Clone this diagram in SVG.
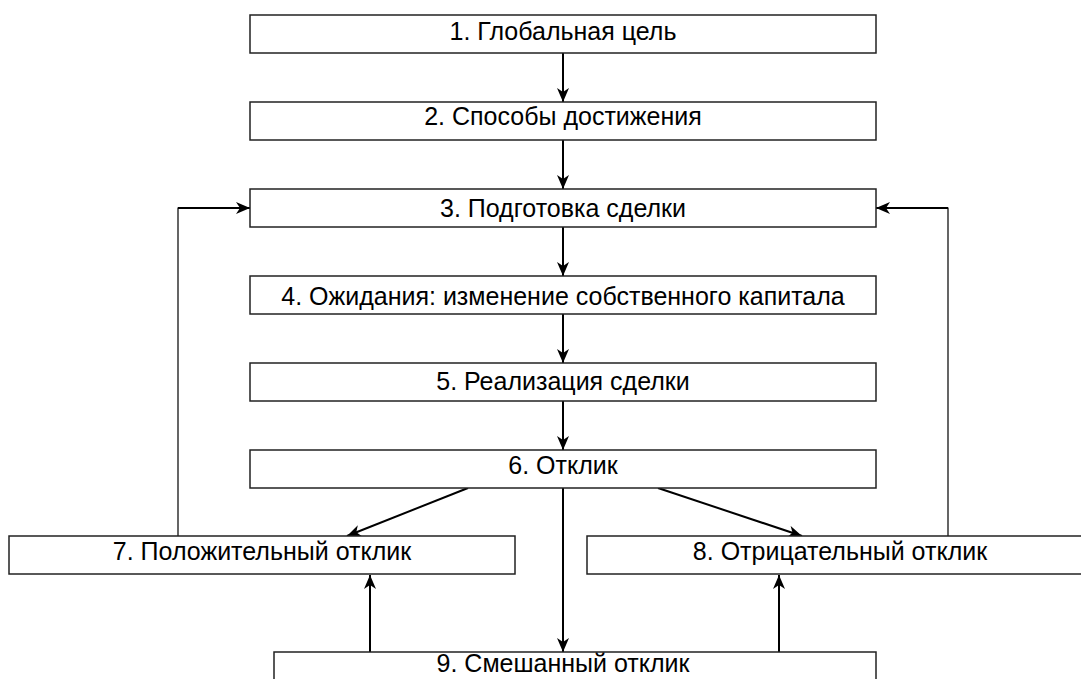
<svg xmlns="http://www.w3.org/2000/svg" width="1081" height="679" viewBox="0 0 1081 679">
<style>
.box{fill:#fff;stroke:#222;stroke-width:1.5}
.lbl{font-family:"Liberation Sans",Arial,sans-serif;font-size:25px;fill:#000;text-anchor:middle}
.con{fill:none;stroke:#000;stroke-width:2}
.thin{fill:none;stroke:#000;stroke-width:1.2}
</style>
<defs>
<marker id="ah" viewBox="0 0 14 12" refX="14" refY="6" markerWidth="14" markerHeight="12" markerUnits="userSpaceOnUse" orient="auto">
<path d="M0,0 L14,6 L0,12 L4,6 z" fill="#000"/>
</marker>
</defs>
<rect width="1081" height="679" fill="#fff"/>
<g id="connectors">
<line class="con" x1="563" y1="53" x2="563" y2="102" marker-end="url(#ah)"/>
<line class="con" x1="563" y1="140" x2="563" y2="189" marker-end="url(#ah)"/>
<line class="con" x1="563" y1="227" x2="563" y2="276" marker-end="url(#ah)"/>
<line class="con" x1="563" y1="314" x2="563" y2="363" marker-end="url(#ah)"/>
<line class="con" x1="563" y1="401" x2="563" y2="450" marker-end="url(#ah)"/>
<line class="con" x1="468" y1="488" x2="347" y2="536" marker-end="url(#ah)"/>
<line class="con" x1="658" y1="488" x2="802" y2="536" marker-end="url(#ah)"/>
<line class="con" x1="563" y1="488" x2="563" y2="652" marker-end="url(#ah)"/>
<line class="con" x1="370" y1="652" x2="370" y2="575" marker-end="url(#ah)"/>
<line class="con" x1="779" y1="652" x2="779" y2="575" marker-end="url(#ah)"/>
<polyline class="thin" points="178,536 178,208 180,208"/>
<line class="con" x1="178" y1="208" x2="250" y2="208" marker-end="url(#ah)"/>
<polyline class="thin" points="948,536 948,208 946,208"/>
<line class="con" x1="948" y1="208" x2="876" y2="208" marker-end="url(#ah)"/>
</g>
<g id="n1"><rect class="box" x="250" y="15" width="626" height="38"/><text class="lbl" x="563" y="40">1. Глобальная цель</text></g>
<g id="n2"><rect class="box" x="250" y="102" width="626" height="38"/><text class="lbl" x="563" y="125">2. Способы достижения</text></g>
<g id="n3"><rect class="box" x="250" y="189" width="626" height="38"/><text class="lbl" x="563" y="217">3. Подготовка сделки</text></g>
<g id="n4"><rect class="box" x="250" y="276" width="626" height="38"/><text class="lbl" x="563" y="305">4. Ожидания: изменение собственного капитала</text></g>
<g id="n5"><rect class="box" x="250" y="363" width="626" height="38"/><text class="lbl" x="563" y="390">5. Реализация сделки</text></g>
<g id="n6"><rect class="box" x="250" y="450" width="626" height="38"/><text class="lbl" x="563" y="474">6. Отклик</text></g>
<g id="n7"><rect class="box" x="9" y="536" width="506" height="38"/><text class="lbl" x="262" y="560">7. Положительный отклик</text></g>
<g id="n8"><rect class="box" x="587" y="536" width="506" height="38"/><text class="lbl" x="840" y="560">8. Отрицательный отклик</text></g>
<g id="n9"><rect class="box" x="274" y="652" width="602" height="38"/><text class="lbl" x="563" y="672">9. Смешанный отклик</text></g>
</svg>
